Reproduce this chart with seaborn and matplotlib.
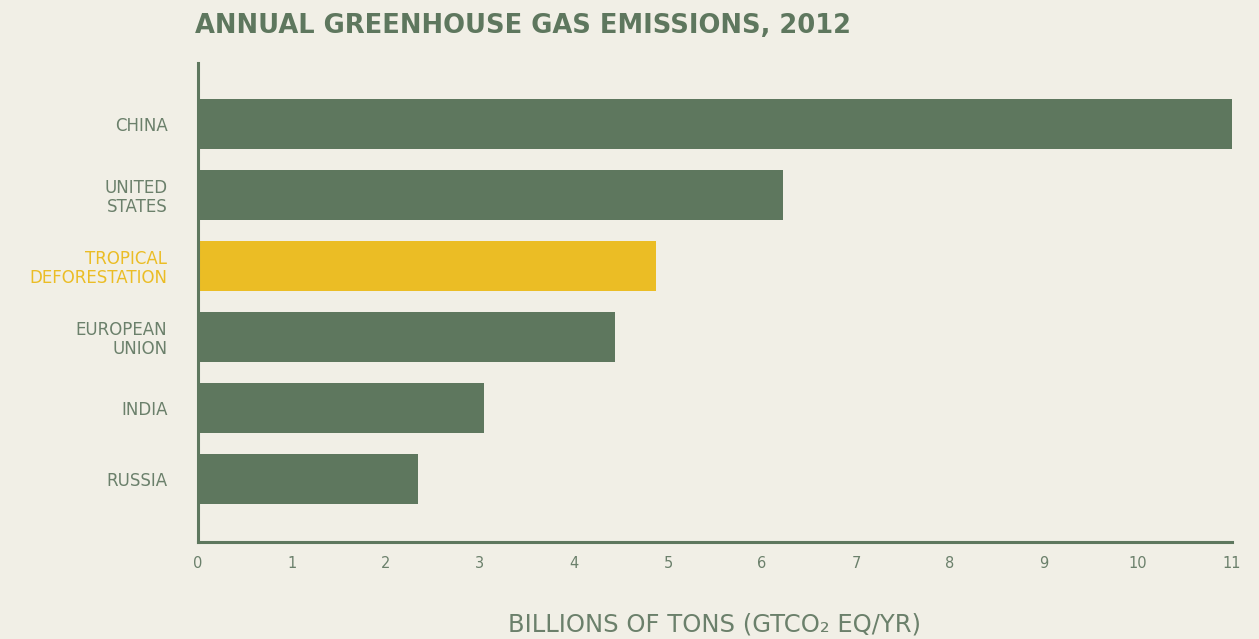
#!/usr/bin/env python3

import pandas as pd
import seaborn as sns
import matplotlib as mpl
import matplotlib.pyplot as plt

BG = "#F1EFE6"
GREEN = "#5E775E"
YELLOW = "#EBBD25"
TEXT = "#6B806B"

categories = ["CHINA", "UNITED\nSTATES", "TROPICAL\nDEFORESTATION",
              "EUROPEAN\nUNION", "INDIA", "RUSSIA"]
emissions = [11.0, 6.22, 4.87, 4.44, 3.04, 2.34]
bar_colors = [GREEN, GREEN, YELLOW, GREEN, GREEN, GREEN]
xticks = list(range(0, 12))

sns.set_theme(style="white")
mpl.rcParams["font.family"] = ["DejaVu Sans"]
mpl.rcParams["figure.dpi"] = 100

df = pd.DataFrame({"region": categories, "value": emissions})

fig = plt.figure(figsize=(12.59, 6.39), facecolor=BG)
ax = fig.add_axes([198 / 1259, 1 - 542 / 639, 1034 / 1259, 479 / 639])
ax.set_facecolor(BG)

sns.barplot(data=df, x="value", y="region", hue="region",
            palette=dict(zip(categories, bar_colors)), legend=False,
            width=0.7, saturation=1, linewidth=0, ax=ax)

ax.set_xlim(0, 11)
ax.set_ylim(5.89, -0.86)
ax.set_xticks(xticks)
ax.tick_params(axis="both", length=0)
ax.tick_params(axis="x", pad=10, labelsize=10.5, labelcolor=TEXT)
ax.tick_params(axis="y", pad=22, labelsize=12, labelcolor=TEXT)
for lab in ax.get_yticklabels():
    lab.set_linespacing(1.08)
    if lab.get_text().startswith("TROPICAL"):
        lab.set_color(YELLOW)

sns.despine(ax=ax)
for side in ["left", "bottom"]:
    ax.spines[side].set_color(GREEN)
    ax.spines[side].set_linewidth(2.2)

ax.set_ylabel("")
ax.set_xlabel("BILLIONS OF TONS (GTCO\u2082 EQ/YR)", fontsize=17.5,
              color=TEXT, labelpad=30)

fig.text(195 / 1259, 1 - 33 / 639, "ANNUAL GREENHOUSE GAS EMISSIONS, 2012",
         fontsize=18.5, fontweight="bold", color=GREEN, va="baseline", ha="left")

fig.savefig("out.png", facecolor=BG)
